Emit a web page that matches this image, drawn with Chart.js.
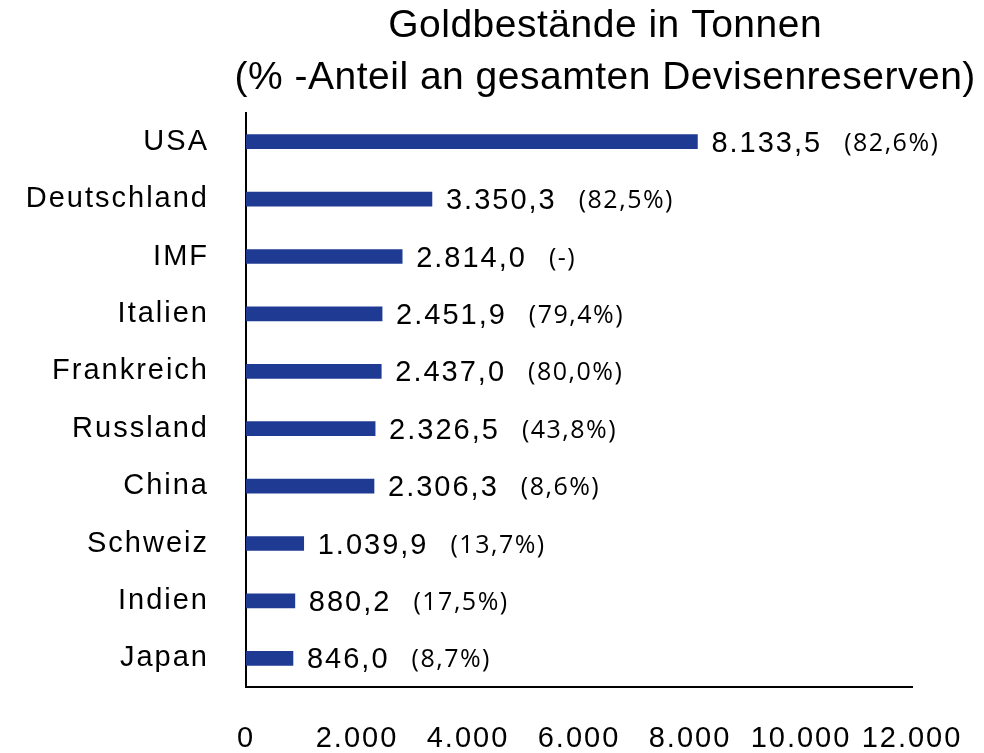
<!DOCTYPE html>
<html>
<head>
<meta charset="utf-8">
<script src="https://cdn.jsdelivr.net/npm/chart.js@4/dist/chart.umd.min.js"></script>
<style>
  html, body { margin: 0; padding: 0; background: #fff; }
  #wrap { width: 984px; height: 753px; }
</style>
</head>
<body>
<div id="wrap"><canvas id="goldChart" width="984" height="753"></canvas></div>
<script>
// Daten
var laender = ["USA", "Deutschland", "IMF", "Italien", "Frankreich", "Russland", "China", "Schweiz", "Indien", "Japan"];
var tonnen = [8133.5, 3350.3, 2814.0, 2451.9, 2437.0, 2326.5, 2306.3, 1039.9, 880.2, 846.0];
var anteil = [82.6, 82.5, null, 79.4, 80.0, 43.8, 8.6, 13.7, 17.5, 8.7];
var xTicks = [0, 2000, 4000, 6000, 8000, 10000, 12000];
var titel = ["Goldbestände in Tonnen", "(% -Anteil an gesamten Devisenreserven)"];

// deutsche Zahlenformatierung: 8.133,5
function fmtDE(v, dec) {
    var s = v.toFixed(dec);
    var parts = s.split(".");
    var ganz = parts[0].replace(/\B(?=(\d{3})+(?!\d))/g, ".");
    return parts.length > 1 ? ganz + "," + parts[1] : ganz;
}

var spacingPlugin = {
    id: 'spacing',
    beforeDraw: function(chart) {
        chart.ctx.letterSpacing = '2px';
    }
};

var labelPlugin = {
    id: 'barLabels',
    afterDatasetsDraw: function(chart) {
        var ctx = chart.ctx;
        var meta = chart.getDatasetMeta(0);
        ctx.save();
        ctx.fillStyle = '#000';
        ctx.textBaseline = 'middle';
        ctx.textAlign = 'left';
        meta.data.forEach(function(bar, i) {
            var txt = fmtDE(tonnen[i], 1);
            ctx.font = '29px "Liberation Sans", Arial, sans-serif';
            ctx.letterSpacing = '2px';
            var x = bar.x + 14;
            ctx.fillText(txt, x, bar.y + 2);
            var w = ctx.measureText(txt).width;
            var p = anteil[i] === null ? "(-)" : "(" + fmtDE(anteil[i], 1) + "%)";
            ctx.font = '25px "Open Sans", "Noto Sans", sans-serif';
            ctx.letterSpacing = '1.5px';
            ctx.fillText(p, x + w + 22, bar.y + 2);
        });
        ctx.restore();
    }
};

var titlePlugin = {
    id: 'zweiZeilenTitel',
    afterDraw: function(chart) {
        var ctx = chart.ctx;
        ctx.save();
        ctx.fillStyle = '#000';
        ctx.font = '39px "Liberation Sans", Arial, sans-serif';
        ctx.letterSpacing = '0.5px';
        ctx.textAlign = 'center';
        ctx.textBaseline = 'middle';
        var cx = chart.width * 0.615;
        ctx.fillText(titel[0], cx, 26);
        ctx.fillText(titel[1], cx, 78);
        ctx.restore();
    }
};

var GKChart = document.getElementById('goldChart').getContext('2d');
var goldChart = new Chart(GKChart, {
    type: 'bar',
    data: {
        labels: laender,
        datasets: [{
            label: 'Goldbestände',
            data: tonnen,
            backgroundColor: '#1F3A93',
            borderWidth: 0,
            barThickness: 14
        }]
    },
    options: {
        indexAxis: 'y',
        responsive: false,
        animation: false,
        layout: {
            padding: { top: 113, right: 72, bottom: 0, left: 0 }
        },
        plugins: {
            legend: { display: false },
            title: { display: false },
            tooltip: { enabled: false }
        },
        scales: {
            x: {
                min: 0,
                max: 12000,
                afterBuildTicks: function(scale) {
                    scale.ticks = xTicks.map(function(v) { return { value: v }; });
                },
                afterFit: function(scale) {
                    scale.height = 66;
                    scale.paddingLeft = 0;
                    scale.paddingRight = 0;
                },
                grid: { display: false, drawTicks: false },
                border: { display: true, color: '#000', width: 2 },
                ticks: {
                    autoSkip: false,
                    maxRotation: 0,
                    padding: 35,
                    color: '#000',
                    font: { family: '"Liberation Sans", Arial, sans-serif', size: 29 },
                    callback: function(v) { return fmtDE(v, 0); }
                }
            },
            y: {
                afterFit: function(scale) { scale.width = 246; },
                grid: { display: false, drawTicks: false },
                border: { display: true, color: '#000', width: 2 },
                ticks: {
                    padding: 37,
                    color: '#000',
                    font: { family: '"Liberation Sans", Arial, sans-serif', size: 29 }
                }
            }
        }
    },
    plugins: [spacingPlugin, labelPlugin, titlePlugin]
});
</script>
</body>
</html>
